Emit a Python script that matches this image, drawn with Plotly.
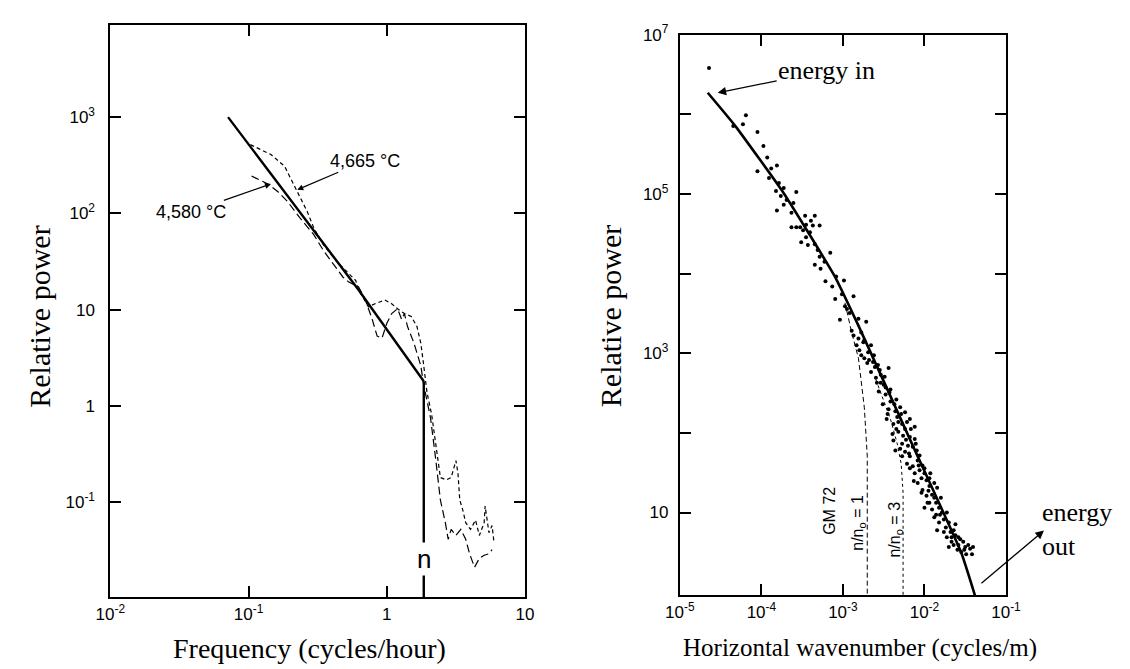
import plotly.graph_objects as go

# ---------------- Left panel data ----------------
fit_f = [0.071, 0.625, 1.85]
fit_p = [1000, 16, 1.8]
n_freq = 1.85
n_line_p = [1.8, 0.009]

t4665_f = [0.103, 0.145, 0.182, 0.207, 0.232, 0.265, 0.297, 0.348, 0.431, 0.523, 0.596, 0.625,
           0.735, 0.822, 0.968, 1.084, 1.195, 1.34, 1.50, 1.65, 1.76, 1.85, 1.95, 2.11, 2.25,
           2.36, 2.44, 2.69, 2.92, 3.16, 3.27, 3.37, 3.54, 3.72, 4.03, 4.38, 4.67, 5.06, 5.14,
           5.48, 5.77, 5.96]
t4665_p = [518, 409, 309, 212, 153, 105, 70, 47, 32, 24, 20, 16,
           10.7, 11.5, 12.6, 11.5, 10.2, 9.1, 8.5, 6.7, 4.5, 2.6, 1.39, 0.81, 0.43,
           0.27, 0.18, 0.17, 0.18, 0.27, 0.20, 0.105, 0.083, 0.061, 0.052, 0.065, 0.045, 0.061, 0.091,
           0.048, 0.057, 0.038]

t4580_f = [0.105, 0.138, 0.163, 0.191, 0.236, 0.297, 0.348, 0.431, 0.482, 0.531, 0.625, 0.70,
           0.784, 0.851, 0.923, 1.0, 1.084, 1.195, 1.28, 1.34, 1.41, 1.57, 1.76, 1.85, 2.07,
           2.25, 2.44, 2.65, 2.78, 2.92, 3.16, 3.43, 3.72, 3.97, 4.31, 4.67, 5.06, 5.48, 5.77]
t4580_p = [244, 202, 168, 133, 89, 59.7, 41, 27.5, 21.7, 19.3, 17.2, 12.6,
           7.9, 5.3, 5.06, 7.2, 9.1, 10.2, 7.9, 9.1, 6.7, 4.5, 2.62, 1.64, 0.75,
           0.29, 0.105, 0.061, 0.041, 0.052, 0.045, 0.052, 0.041, 0.029, 0.021, 0.026, 0.028, 0.029, 0.032]

left_xtick_vals = [0.01, 0.1, 1, 10]
left_xtick_text = ["10<sup>-2</sup>", "10<sup>-1</sup>", "1", "10"]
left_ytick_vals = [0.1, 1, 10, 100, 1000]
left_ytick_text = ["10<sup>-1</sup>", "1", "10", "10<sup>2</sup>", "10<sup>3</sup>"]

# ---------------- Right panel data ----------------
dots_k = [2.28e-5, 4.52e-5, 5.94e-5, 6.46e-5, 8.95e-5, 8.95e-5, 1.06e-4, 1.18e-4, 1.32e-4, 1.55e-4,
          1.64e-4, 1.51e-4, 1.73e-4, 1.88e-4, 2.04e-4, 2.68e-4, 1.55e-4, 2.34e-4, 1.88e-4, 3.44e-4,
          4.52e-4, 4.05e-4, 3.53e-4, 2.34e-4, 2.68e-4, 2.99e-4, 3.25e-4, 4.28e-4, 5.18e-4, 3.53e-4,
          3.08e-4, 3.72e-4, 4.52e-4, 4.90e-4, 7.00e-4, 5.18e-4, 4.52e-4, 5.32e-4, 6.11e-4, 8.26e-4,
          1.03e-3, 8.04e-4, 9.73e-4, 1.12e-3, 9.20e-4, 1.35e-3, 1.21e-3, 1.55e-3, 1.93e-3, 1.28e-3,
          1.68e-3, 1.83e-3, 2.21e-3, 1.55e-3, 1.47e-3, 1.78e-3, 1.68e-3, 1.83e-3, 2.04e-3, 2.34e-3,
          2.69e-3, 3.63e-3, 2.21e-3, 2.54e-3, 2.91e-3, 3.16e-3, 2.75e-3, 3.34e-3, 3.83e-3, 3.08e-3,
          3.63e-3, 4.40e-3, 5.04e-3, 3.53e-3, 4.64e-3, 4.16e-3, 5.32e-3, 6.11e-3, 7.60e-3, 4.05e-3,
          4.78e-3, 5.47e-3, 6.62e-3, 4.16e-3, 5.32e-3, 6.28e-3, 7.19e-3, 4.40e-3, 5.78e-3, 8.04e-3,
          5.32e-3, 6.62e-3, 8.26e-3, 6.11e-3, 7.19e-3, 8.71e-3, 9.46e-3, 7.60e-3, 9.20e-3, 8.26e-3,
          1.06e-2, 9.46e-3, 1.15e-2, 1.43e-2, 9.20e-3, 1.06e-2, 1.24e-2, 1.15e-2, 1.39e-2, 1.24e-2,
          1.51e-2, 1.39e-2, 1.64e-2, 1.73e-2, 1.51e-2, 1.99e-2, 2.40e-2, 1.73e-2, 2.09e-2, 2.40e-2,
          2.75e-2, 2.15e-2, 2.61e-2, 2.99e-2, 3.44e-2, 2.83e-2, 3.25e-2, 3.63e-2, 2.28e-2,
          1.35e-3, 2.09e-3, 2.47e-3, 2.91e-3, 3.34e-3, 3.83e-3, 4.52e-3, 5.78e-3, 6.62e-3, 4.78e-3,
          5.78e-3, 7.60e-3, 5.04e-3, 8.71e-3, 1.0e-2, 6.62e-3, 1.15e-2, 1.32e-2, 1.09e-2, 1.59e-2,
          1.88e-2, 1.32e-2, 2.28e-2, 1.88e-2, 3.16e-2, 3.94e-2, 2.61e-2,
          1.24e-4, 2.47e-4, 3.94e-4, 5.94e-4, 7.40e-4, 1.06e-3,
          1.59e-3, 1.99e-3, 2.40e-3, 2.83e-3, 3.25e-3, 2.61e-3, 3.72e-3, 4.28e-3, 3.44e-3, 5.18e-3,
          4.52e-3, 5.94e-3, 6.81e-3, 7.82e-3, 6.46e-3, 8.49e-3, 1.0e-2, 7.40e-3, 1.12e-2, 1.32e-2,
          1.0e-2, 1.55e-2, 1.83e-2, 1.43e-2, 2.15e-2, 2.54e-2, 3.08e-2, 1.99e-2, 3.83e-2, 1.18e-2]
dots_p = [3.8e6, 7.1e5, 7.5e5, 9.7e5, 6.0e5, 1.92e5, 4.0e5, 2.86e5, 2.09e5, 2.28e5,
          1.37e5, 1.09e5, 9.4e4, 1.19e5, 8.4e4, 1.06e5, 6.2e4, 5.8e4, 7.3e4, 5.3e4,
          5.3e4, 4.6e4, 4.1e4, 3.8e4, 3.8e4, 3.8e4, 3.5e4, 4.0e4, 4.0e4, 2.86e4,
          2.48e4, 2.28e4, 2.34e4, 1.98e4, 1.82e4, 1.62e4, 1.29e4, 1.15e4, 8.0e3, 9.2e3,
          8.2e3, 4.8e3, 5.5e3, 3.6e3, 2.63e3, 5.2e3, 3.2e3, 2.7e3, 2.48e3, 1.92e3,
          1.82e3, 1.45e3, 1.26e3, 1.53e3, 1.26e3, 1.37e3, 944, 867, 1.03e3, 774,
          711, 653, 582, 491, 535, 403, 330, 303, 248, 228,
          198, 187, 209, 172, 158, 129, 129, 137, 119, 97,
          103, 92, 89, 80, 73, 69, 67, 60, 58, 60,
          51, 51, 45, 41, 38, 34, 39, 31, 27, 23.4,
          25.5, 19.2, 21.5, 20.4, 17.7, 16.2, 16.7, 13.3, 13.3, 10.9,
          11.5, 9.4, 10, 8.2, 7.5, 7.5, 7.1, 5.7, 5.7, 5.2,
          4.6, 4.3, 3.9, 4.3, 3.9, 3.2, 3.0, 3.5, 3.9,
          1.67e3, 820, 671, 427, 370, 349, 263, 182, 149, 137,
          112, 84, 63, 52, 36, 36, 27, 23.4, 13.3, 15.3,
          10, 8.7, 6.0, 4.9, 3.7, 3.7, 4.9,
          1.58e5, 7.7e4, 3.3e4, 1.41e4, 6.9e3, 3.9e3,
          1.09e3, 753, 944, 617, 506, 427, 321, 228, 149, 172,
          112, 82, 112, 73, 55, 39, 31, 24.8, 18.7, 15.3,
          11.5, 9.4, 6.5, 6.0, 4.9, 3.4, 3.4, 3.7, 3.0, 31]

model_k = [2.2e-5, 4.8e-5, 1.88e-4, 8.0e-4, 1.55e-3, 6.9e-3, 2.83e-2, 4.16e-2]
model_p = [1.86e6, 7.1e5, 1.02e5, 9.1e3, 2.22e3, 76, 3.12, 0.91]

gm1_k = [1.06e-3, 1.28e-3, 1.55e-3, 1.83e-3, 1.99e-3, 1.99e-3, 1.99e-3]
gm1_p = [4.3e3, 1.82e3, 867, 209, 51, 13.3, 0.8]
gm3_k = [2.54e-3, 3.83e-3, 4.64e-3, 5.18e-3, 5.47e-3, 5.47e-3]
gm3_p = [464, 149, 73, 41, 17.7, 0.8]

right_xtick_vals = [1e-5, 1e-4, 1e-3, 1e-2, 1e-1]
right_xtick_text = ["10<sup>-5</sup>", "10<sup>-4</sup>", "10<sup>-3</sup>", "10<sup>-2</sup>", "10<sup>-1</sup>"]
right_ytick_vals = [10, 100, 1e3, 1e4, 1e5, 1e6, 1e7]
right_ytick_text = ["10", "", "10<sup>3</sup>", "", "10<sup>5</sup>", "", "10<sup>7</sup>"]

# ---------------- Figure ----------------
SANSF = "Liberation Sans, Arial, sans-serif"
TICKFONT = dict(family=SANSF, size=17, color="black")
SERIF = "Liberation Serif, Times New Roman, serif"

fig = go.Figure()

# left panel traces
fig.add_trace(go.Scatter(x=t4665_f, y=t4665_p, mode="lines", xaxis="x", yaxis="y",
                         line=dict(color="black", width=1.2, dash="4px,3px")))
fig.add_trace(go.Scatter(x=t4580_f, y=t4580_p, mode="lines", xaxis="x", yaxis="y",
                         line=dict(color="black", width=1.2, dash="8px,4px")))
fig.add_trace(go.Scatter(x=fit_f, y=fit_p, mode="lines", xaxis="x", yaxis="y",
                         line=dict(color="black", width=2.4)))
fig.add_trace(go.Scatter(x=[n_freq, n_freq], y=n_line_p, mode="lines", xaxis="x", yaxis="y",
                         line=dict(color="black", width=2.4)))

# right panel traces
fig.add_trace(go.Scatter(x=gm1_k, y=gm1_p, mode="lines", xaxis="x2", yaxis="y2",
                         line=dict(color="black", width=1, dash="5px,3px")))
fig.add_trace(go.Scatter(x=gm3_k, y=gm3_p, mode="lines", xaxis="x2", yaxis="y2",
                         line=dict(color="black", width=1, dash="3px,3px")))
fig.add_trace(go.Scatter(x=model_k, y=model_p, mode="lines", xaxis="x2", yaxis="y2",
                         line=dict(color="black", width=2.6, shape="spline", smoothing=0.4)))
fig.add_trace(go.Scatter(x=dots_k, y=dots_p, mode="markers", xaxis="x2", yaxis="y2",
                         marker=dict(color="black", size=4)))

axis_common = dict(type="log", showgrid=False, zeroline=False, showline=True,
                   linecolor="black", linewidth=2, mirror="ticks", ticks="inside",
                   ticklen=11, tickwidth=1.5, tickcolor="black", tickfont=TICKFONT)

fig.update_layout(
    width=1130, height=669,
    margin=dict(l=0, r=0, t=0, b=0),
    paper_bgcolor="white", plot_bgcolor="white",
    showlegend=False,
    xaxis=dict(axis_common, domain=[0.0867, 0.4637], range=[-2, 1], anchor="y",
               tickvals=left_xtick_vals, ticktext=left_xtick_text),
    yaxis=dict(axis_common, domain=[0.1091, 0.9806], range=[-1.99, 3.96], anchor="x",
               tickvals=left_ytick_vals, ticktext=left_ytick_text, ticklabelstandoff=10),
    xaxis2=dict(axis_common, domain=[0.6044, 0.9009], range=[-5, -1], anchor="y2",
                tickvals=right_xtick_vals, ticktext=right_xtick_text),
    yaxis2=dict(axis_common, domain=[0.1121, 0.9656], range=[-0.04, 7.0], anchor="x2",
                tickvals=right_ytick_vals, ticktext=right_ytick_text, ticklabelstandoff=6),
)

ann = []
# axis titles
ann.append(dict(text="Relative power", xref="paper", yref="paper", x=25 / 1130, y=(669 - 310) / 669,
                xanchor="center", yanchor="middle",
                textangle=-90, showarrow=False, font=dict(family=SERIF, size=30, color="black")))
ann.append(dict(text="Relative power", xref="paper", yref="paper", x=612 / 1130, y=(669 - 310) / 669,
                xanchor="center", yanchor="middle",
                textangle=-90, showarrow=False, font=dict(family=SERIF, size=30, color="black")))
ann.append(dict(text="Frequency (cycles/hour)", xref="paper", yref="paper", x=303 / 1130, y=(669 - 648) / 669,
                xanchor="center", yanchor="middle",
                showarrow=False, font=dict(family=SERIF, size=28, color="black")))
ann.append(dict(text="Horizontal wavenumber (cycles/m)", xref="paper", yref="paper", x=868 / 1130,
                y=(669 - 648) / 669, xanchor="center", yanchor="middle",
                showarrow=False, font=dict(family=SERIF, size=25, color="black")))

# left panel labels
SANS = dict(family=SANSF, size=18, color="black")
ann.append(dict(text="4,665 °C", xref="x", yref="y", x=-0.648, y=2.245, ax=68, ay=-29,
                showarrow=True, arrowhead=2, arrowsize=1, arrowwidth=1.2, arrowcolor="black",
                font=SANS))
ann.append(dict(text="4,580 °C", xref="x", yref="y", x=-0.838, y=2.306, ax=-80, ay=28,
                showarrow=True, arrowhead=2, arrowsize=1, arrowwidth=1.2, arrowcolor="black",
                font=SANS))
ann.append(dict(text="n", xref="x", yref="y", x=0.268, y=-1.59, showarrow=False, bgcolor="white",
                font=dict(family=SANSF, size=26, color="black")))

# right panel labels
ann.append(dict(text="energy in", xref="x2", yref="y2", x=-4.536, y=6.27, ax=109, ay=-22,
                showarrow=True, arrowhead=2, arrowsize=1.3, arrowwidth=1.3, arrowcolor="black",
                font=dict(family=SERIF, size=26, color="black")))
ann.append(dict(text="", xref="paper", yref="paper", x=1057 / 1130, y=(669 - 528) / 669,
                ax=-64, ay=54, showarrow=True, arrowhead=2, arrowsize=1.3, arrowwidth=1.3,
                arrowcolor="black"))
ann.append(dict(text="energy<br>out", xref="paper", yref="paper", x=1053 / 1130, y=(669 - 527) / 669,
                xanchor="left", yanchor="middle", align="left", showarrow=False,
                font=dict(family=SERIF, size=26, color="black")))
ann.append(dict(text="GM 72", xref="x2", yref="y2", x=-3.167, y=1.025, textangle=-90, showarrow=False,
                font=dict(family=SANSF, size=16, color="black")))
ann.append(dict(text="n/n<sub>o</sub> = 1", xref="x2", yref="y2", x=-2.81, y=0.877, textangle=-90,
                showarrow=False, font=dict(family=SANSF, size=16, color="black")))
ann.append(dict(text="n/n<sub>o</sub> = 3", xref="x2", yref="y2", x=-2.357, y=0.79, textangle=-90,
                showarrow=False, font=dict(family=SANSF, size=16, color="black")))

fig.update_layout(annotations=ann)
fig.write_html("out.html")
